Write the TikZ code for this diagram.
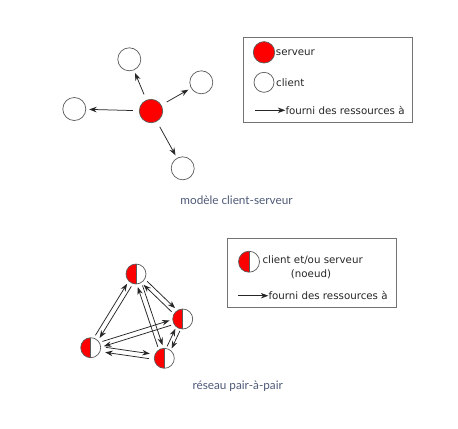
\documentclass[tikz,border=0pt]{standalone}
\usepackage{fontspec}
\setmainfont{DejaVu Sans}
\newfontfamily\capfont{Lato}
\usetikzlibrary{arrows.meta,calc}
\definecolor{capcol}{HTML}{4E5A78}
\definecolor{outl}{HTML}{5A5A5A}
\tikzset{
  srv/.style={circle, draw=outl, line width=0.7bp, fill=red, minimum size=23.4bp, inner sep=0pt},
  cli/.style={circle, draw=outl, line width=0.7bp, fill=white, minimum size=23bp, inner sep=0pt},
  half/.style={circle, draw=outl, line width=0.7bp, fill=white, minimum size=#1, inner sep=0pt,
    path picture={\fill[red] (path picture bounding box.north west) rectangle (path picture bounding box.south);
      \draw[outl, line width=0.7bp] (path picture bounding box.north) -- (path picture bounding box.south);}},
  half/.default=20bp,
  arr/.style={-{Stealth[length=7.5bp,width=5.5bp]}, black!85, line width=0.75bp},
  legbox/.style={draw=black!55, line width=0.7bp},
  lbl/.style={font=\fontsize{10.3}{12}\selectfont, anchor=west, inner sep=0pt, text=black!85},
  captext/.style={font=\capfont\fontsize{11.8}{13}\selectfont, text=capcol, inner sep=0pt}
}
\newcommand\pairarr[3][13]{%
  \draw[arr] ($(#2)!#1bp!(#3)!2.5bp!90:(#3)$) -- ($(#3)!#1bp!(#2)!2.5bp!-90:(#2)$);
  \draw[arr] ($(#3)!#1bp!(#2)!2.5bp!90:(#2)$) -- ($(#2)!#1bp!(#3)!2.5bp!-90:(#3)$);
}
\begin{document}
\begin{tikzpicture}[x=1bp,y=-1bp]
\useasboundingbox (0,0) rectangle (458,428);
\fill[white] (0,0) rectangle (458,428);
% client-server
\node[srv] (s) at (151,111) {};
\node[cli] (t1) at (129.3,59.3) {};
\node[cli] (t2) at (201.3,82.3) {};
\node[cli] (t3) at (74.3,109) {};
\node[cli] (t4) at (182.7,168.3) {};
\foreach \t in {t1,t2,t3,t4} \draw[arr, shorten <=6bp, shorten >=3bp] (s) -- (\t);
% legend 1
\node[legbox, minimum width=169bp, minimum height=84.4bp, anchor=north west, inner sep=0pt] (leg1) at (243.3,37.3) {};
\node[srv, minimum size=21.4bp] (ls) at (264,52.3) {};
\node[lbl] (lst) at (275.7,52.3) {serveur};
\node[cli, minimum size=20bp] (lc) at (264,82.3) {};
\node[lbl] (lct) at (276,82.3) {client};
\coordinate (la1) at (255,110.3);
\node[lbl] (lat) at (285.3,110.3) {fourni des ressources à};
\draw[arr] (la1) -- (lat.west);
\node[captext] (cap1) at (236.5,200) {modèle client-serveur};
% peer-to-peer
\node[half] (A) at (136,274) {};
\node[half] (R) at (182.7,319) {};
\node[half] (L) at (90.7,347.7) {};
\node[half] (B) at (164.3,358.3) {};
\pairarr{A}{L}
\pairarr{A}{R}
\pairarr{A}{B}
\pairarr{L}{R}
\pairarr[15]{L}{B}
\pairarr[12]{R}{B}
% legend 2
\node[legbox, minimum width=169bp, minimum height=68.4bp, anchor=north west, inner sep=0pt] (leg2) at (226.7,238.3) {};
\node[half=21bp] (lh) at (249,261.7) {};
\node[lbl] (lht) at (262.3,260.5) {client et/ou serveur};
\node[lbl, anchor=center] (lhn) at (311,274.5) {(noeud)};
\coordinate (lb1) at (238.3,295.7);
\node[lbl] (lbt) at (268.3,295.7) {fourni des ressources à};
\draw[arr] (lb1) -- (lbt.west);
\node[captext] (cap2) at (237.7,386.7) {réseau pair-à-pair};
\end{tikzpicture}
\end{document}
